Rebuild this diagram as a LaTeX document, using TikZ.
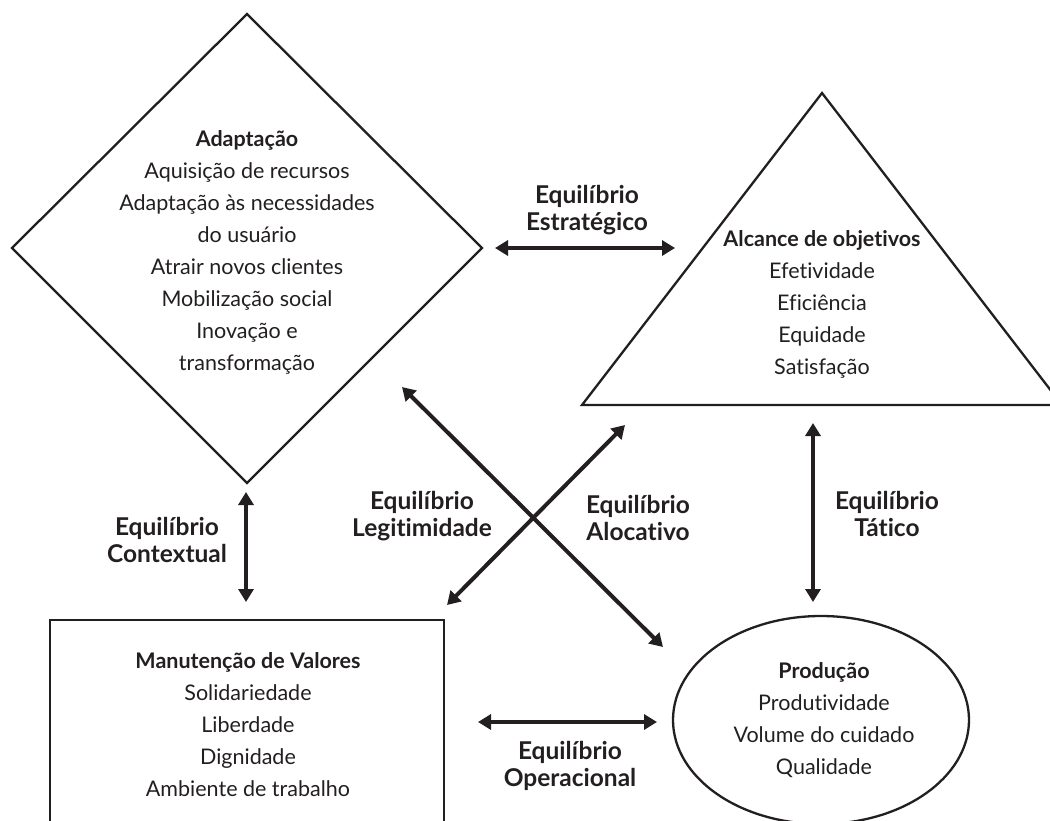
\documentclass[tikz,border=0pt]{standalone}
\usepackage{fontspec}
\setmainfont{Lato}[RawFeature=-liga]
\usetikzlibrary{arrows.meta}
\definecolor{ink}{HTML}{231F20}
\tikzset{
  shapeline/.style={draw=ink, line width=2.3pt},
  body/.style={align=center, text=ink, font=\fontsize{21.5}{32}\selectfont, inner sep=0pt},
  lbl/.style={align=center, text=ink, font=\fontsize{24.5}{26.5}\selectfont\bfseries, inner sep=0pt},
  dbl/.style={draw=ink, line width=4pt, {Triangle[length=13pt,width=15pt]}-{Triangle[length=13pt,width=15pt]}},
}
\begin{document}
\begin{tikzpicture}[x=1pt,y=-1pt]
\useasboundingbox (0,0) rectangle (1050,820);
\begin{scope}
\clip (0,0) rectangle (1050,820);
% shapes
\draw[shapeline] (247,14) -- (482,248) -- (247,483) -- (12,248) -- cycle;
\draw[shapeline] (822,93) -- (1062,405) -- (582,405) -- cycle;
\draw[shapeline] (50,835) -- (50,620) -- (444,620) -- (444,835);
\draw[shapeline] (821,720) ellipse [x radius=148, y radius=104];
\end{scope}
% texts
\node[body] (adapt) at (247,252) {\textbf{Adaptação}\\Aquisição de recursos\\Adaptação às necessidades\\do usuário\\Atrair novos clientes\\Mobilização social\\Inovação e\\transformação};
\node[body] (alc) at (822,304) {\textbf{Alcance de objetivos}\\Efetividade\\Eficiência\\Equidade\\Satisfação};
\node[body] (man) at (248,725) {\textbf{Manutenção de Valores}\\Solidariedade\\Liberdade\\Dignidade\\Ambiente de trabalho};
\node[body] (prod) at (824,720) {\textbf{Produção}\\Produtividade\\Volume do cuidado\\Qualidade};
% arrow ends
\coordinate (s1) at (495,248); \coordinate (s2) at (675,248);
\coordinate (c1) at (246,492); \coordinate (c2) at (246,602);
\coordinate (g1) at (402,387); \coordinate (g2) at (663,647);
\coordinate (a1) at (447,605); \coordinate (a2) at (625,425);
\coordinate (t1) at (813,423); \coordinate (t2) at (813,602);
\coordinate (o1) at (478,722); \coordinate (o2) at (657,722);
\draw[dbl] (s1) -- (s2);
\draw[dbl] (c1) -- (c2);
\draw[dbl] (g1) -- (g2);
\draw[dbl] (a1) -- (a2);
\draw[dbl] (t1) -- (t2);
\draw[dbl] (o1) -- (o2);
% labels
\node[lbl] (ls) at (587,210) {Equilíbrio\\Estratégico};
\node[lbl] (lc) at (167,540) {Equilíbrio\\Contextual};
\node[lbl] (lg) at (422,516) {Equilíbrio\\Legitimidade};
\node[lbl] (la) at (638,518) {Equilíbrio\\Alocativo};
\node[lbl] (lt) at (887,514) {Equilíbrio\\Tático};
\node[lbl] (lo) at (570,766) {Equilíbrio\\Operacional};
\end{tikzpicture}
\end{document}
